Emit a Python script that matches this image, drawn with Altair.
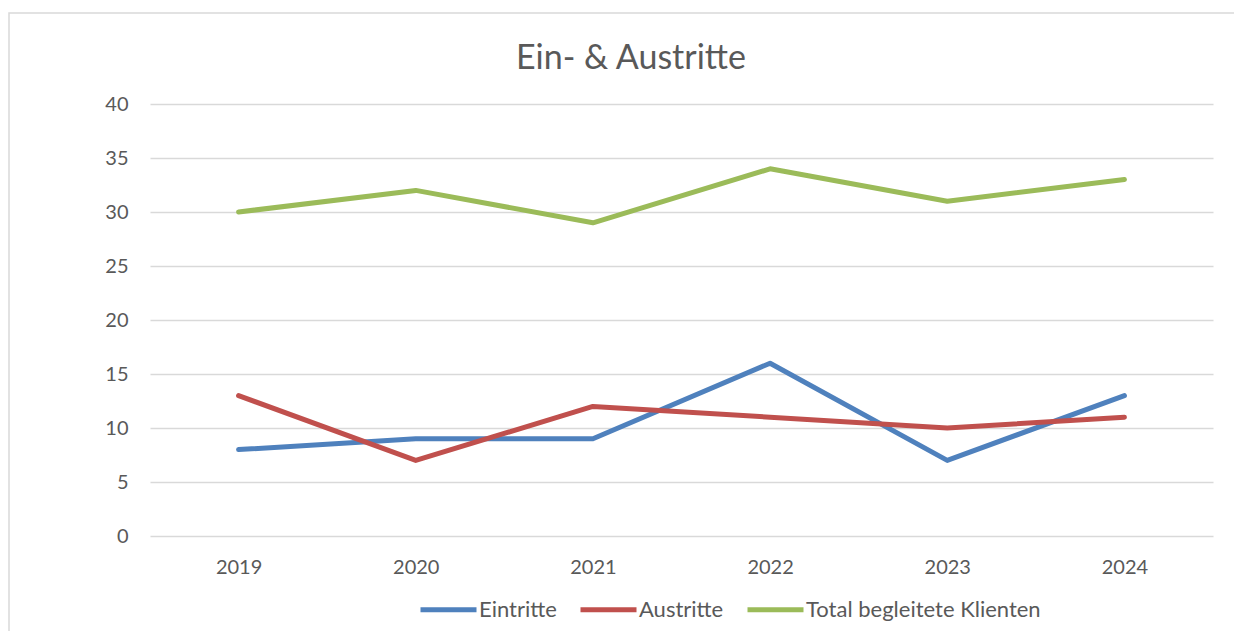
import altair as alt
import pandas as pd

years = ["2019", "2020", "2021", "2022", "2023", "2024"]
series_names = ["Eintritte", "Austritte", "Total begleitete Klienten"]
eintritte = [8, 9, 9, 16, 7, 13]
austritte = [13, 7, 12, 11, 10, 11]
total = [30, 32, 29, 34, 31, 33]
colors = ["#4f81bd", "#c0504d", "#9bbb59"]
y_ticks = [0, 5, 10, 15, 20, 25, 30, 35, 40]
title_text = "Ein- & Austritte"

rows = []
for name, vals in zip(series_names, [eintritte, austritte, total]):
    for y, v in zip(years, vals):
        rows.append({"Jahr": y, "Serie": name, "Wert": v})
df = pd.DataFrame(rows)

FONT = "Lato"
GREY = "#595959"

lines = alt.Chart(df).mark_line(strokeWidth=5, strokeCap="round", strokeJoin="round").encode(
    x=alt.X("Jahr:O", sort=years, scale=alt.Scale(type="point", padding=0.5),
            axis=alt.Axis(title=None, labelAngle=0, ticks=False, domain=False,
                          labelFontSize=20, labelColor=GREY, labelFont=FONT,
                          labelPadding=21, grid=False)),
    y=alt.Y("Wert:Q", scale=alt.Scale(domain=[0, 40], nice=False),
            axis=alt.Axis(title=None, values=y_ticks, ticks=False, domain=False,
                          labelFontSize=20, labelColor=GREY, labelFont=FONT,
                          labelPadding=22, gridColor="#d9d9d9", gridWidth=1.5)),
    color=alt.Color("Serie:N", scale=alt.Scale(domain=series_names, range=colors),
                    legend=alt.Legend(title=None, orient="none", direction="horizontal",
                                      legendX=268, legendY=475, padding=0,
                                      symbolType="stroke", symbolSize=3136,
                                      symbolStrokeWidth=5, labelFontSize=22,
                                      labelFont=FONT, labelColor=GREY, labelLimit=0,
                                      labelOffset=0, columnPadding=13)),
)

border = alt.Chart(pd.DataFrame({"a": [0]})).mark_rect(
    fill=None, stroke="#d9d9d9", strokeWidth=1.5
).encode(x=alt.value(-141), x2=alt.value(1300), y=alt.value(-91), y2=alt.value(700))

title = alt.Chart(pd.DataFrame({"t": [title_text]})).mark_text(
    font=FONT, fontSize=34, color=GREY, align="center", baseline="alphabetic"
).encode(text="t:N", x=alt.value(481), y=alt.value(-35))

chart = alt.layer(border, lines, title).properties(
    width=1063, height=432,
    autosize=alt.AutoSizeParams(type="none"),
    padding={"left": 142, "top": 96, "right": 21, "bottom": 95},
).configure_view(stroke=None)

chart.save("out.html", embed_options={"renderer": "svg", "actions": False})
